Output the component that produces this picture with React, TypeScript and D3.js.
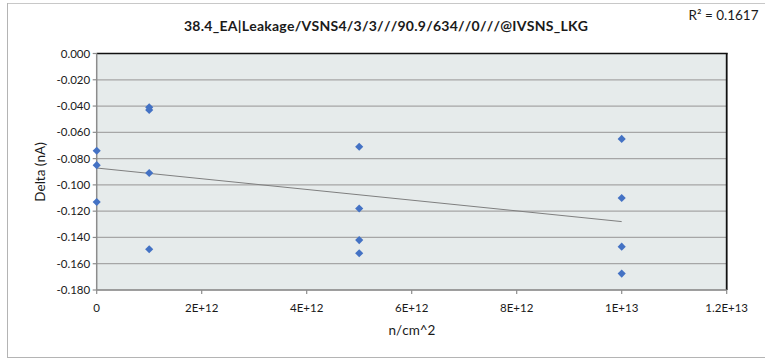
import React from "react";
import * as d3 from "d3";

const title = "38.4_EA|Leakage/VSNS4/3/3///90.9/634//0///@IVSNS_LKG";
const xLabel = "n/cm^2";
const yLabel = "Delta (nA)";
const r2Label = "R² = 0.1617";

const xValues = [0, 0, 0, 1e12, 1e12, 1e12, 1e12, 5e12, 5e12, 5e12, 5e12, 1e13, 1e13, 1e13, 1e13];
const yValues = [-0.074, -0.085, -0.113, -0.041, -0.043, -0.091, -0.149, -0.071, -0.118, -0.142, -0.152, -0.065, -0.110, -0.147, -0.1675];

const xTicks = [0, 2e12, 4e12, 6e12, 8e12, 1e13, 1.2e13];
const xTickLabels = ["0", "2E+12", "4E+12", "6E+12", "8E+12", "1E+13", "1.2E+13"];
const yTicks = [0, -0.02, -0.04, -0.06, -0.08, -0.1, -0.12, -0.14, -0.16, -0.18];

const W = 765;
const H = 359;
const M = { left: 96.7, right: 726.7, top: 53.5, bottom: 290 };
const FONT = "Lato, 'Open Sans', sans-serif";

export default function App() {
  const x = d3.scaleLinear().domain([0, 1.2e13]).range([M.left, M.right]);
  const y = d3.scaleLinear().domain([-0.18, 0]).range([M.bottom, M.top]);

  const n = xValues.length;
  const mx = d3.mean(xValues) as number;
  const my = d3.mean(yValues) as number;
  let sxy = 0;
  let sxx = 0;
  for (let i = 0; i < n; i++) {
    sxy += (xValues[i] - mx) * (yValues[i] - my);
    sxx += (xValues[i] - mx) ** 2;
  }
  const slope = sxy / sxx;
  const intercept = my - slope * mx;
  const [xmin, xmax] = d3.extent(xValues) as [number, number];
  const trend = d3.line<number>()
    .x((v) => x(v))
    .y((v) => y(intercept + slope * v))([xmin, xmax]);

  const diamond = d3.symbol().type(d3.symbolDiamond2).size(42)();

  return (
    <svg
      width={W}
      height={H}
      style={{ position: "fixed", left: 0, top: 0, background: "#fff", fontKerning: "none" }}
      fontFamily={FONT}
    >
      <rect x={0} y={0} width={W} height={H} fill="#fff" />
      {/* outer chart border */}
      <line x1={7} x2={W} y1={3.5} y2={3.5} stroke="#c8c8c8" strokeWidth={1} />
      <line x1={7} x2={W} y1={357.5} y2={357.5} stroke="#b4b4b4" strokeWidth={1} />
      <line x1={7.5} x2={7.5} y1={3} y2={358} stroke="#b4b4b4" strokeWidth={1} />

      {/* plot background */}
      <rect x={M.left} y={M.top} width={M.right - M.left} height={M.bottom - M.top} fill="#e6ebeb" />

      {/* gridlines */}
      {yTicks.map((t) => (
        <line
          key={"g" + t}
          x1={M.left}
          x2={M.right}
          y1={y(t)}
          y2={y(t)}
          stroke="#a6a6a6"
          strokeWidth={1.2}
        />
      ))}

      {/* top and right border */}
      <line x1={M.left} x2={M.right + 1} y1={M.top} y2={M.top} stroke="#111" strokeWidth={1.5} />
      <line x1={M.right} x2={M.right} y1={M.top} y2={M.bottom} stroke="#111" strokeWidth={1.8} />

      {/* axes */}
      <line x1={M.left} x2={M.left} y1={M.top} y2={M.bottom} stroke="#8c8c8c" strokeWidth={1.5} />
      <line x1={M.left} x2={M.right} y1={M.bottom} y2={M.bottom} stroke="#8c8c8c" strokeWidth={1.5} />
      {yTicks.map((t) => (
        <g key={"yt" + t}>
          <line x1={M.left - 4} x2={M.left} y1={y(t)} y2={y(t)} stroke="#8c8c8c" strokeWidth={1.2} />
          <text x={M.left - 6.5} y={y(t)} dy="0.35em" textAnchor="end" fontSize={11.5} fill="#1a1a1a">
            {d3.format(".3f")(t).replace("−", "-")}
          </text>
        </g>
      ))}
      {xTicks.map((t, i) => (
        <g key={"xt" + t}>
          <line x1={x(t)} x2={x(t)} y1={M.bottom} y2={M.bottom + 4} stroke="#8c8c8c" strokeWidth={1.2} />
          <text x={x(t)} y={M.bottom + 18} dy="0.35em" textAnchor="middle" fontSize={11.5} fill="#1a1a1a">
            {xTickLabels[i]}
          </text>
        </g>
      ))}

      {/* trendline */}
      <path d={trend || ""} fill="none" stroke="#7f7f7f" strokeWidth={1} />

      {/* points */}
      {xValues.map((xv, i) => (
        <path key={"p" + i} d={diamond || ""} transform={`translate(${x(xv)},${y(yValues[i])})`} fill="#4472c4" />
      ))}

      {/* titles */}
      <text
        x={386}
        y={26}
        dy="0.35em"
        textAnchor="middle"
        fontSize={14}
        fontWeight="bold"
        fill="#1a1a1a"
        textLength={404}
        lengthAdjust="spacing"
      >
        {title}
      </text>
      <text x={723.5} y={15} dy="0.35em" textAnchor="middle" fontSize={13.5} fill="#1a1a1a">
        {r2Label}
      </text>
      <text x={412} y={330} dy="0.35em" textAnchor="middle" fontSize={13.5} fill="#1a1a1a">
        {xLabel}
      </text>
      <text
        transform={`translate(40,172) rotate(-90)`}
        dy="0.35em"
        textAnchor="middle"
        fontSize={13.5}
        fill="#1a1a1a"
      >
        {yLabel}
      </text>
    </svg>
  );
}
